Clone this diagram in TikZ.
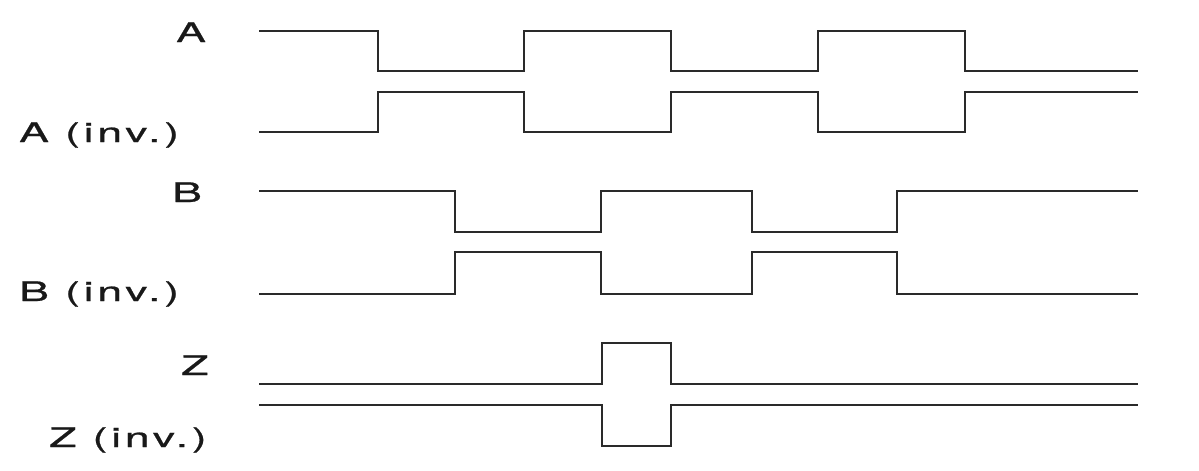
\documentclass[tikz,border=0pt]{standalone}
\usepackage{fontspec}
\usepackage{tikz}
\newfontfamily\sigfont[FakeStretch=1.65,LetterSpace=14,FakeBold=0.8]{TeX Gyre Heros}
\definecolor{wavegray}{HTML}{2A2A2A}

\begin{document}
\begin{tikzpicture}[x=1pt, y=-1pt]
    % Styles
    \tikzstyle{sig} = [anchor=base west, inner sep=0pt, text=black!90, font=\sigfont\fontsize{27}{30}\selectfont]
    \tikzstyle{wave} = [draw=wavegray, line width=1.6pt, line join=miter]

    \useasboundingbox (0,0) rectangle (1199,471);

    % Labels
    \node[sig] (lA)  at (176,42)  {A};
    \node[sig] (lAn) at (19,142)  {A (inv.)};
    \node[sig] (lB)  at (172,202) {B};
    \node[sig] (lBn) at (19,301)  {B (inv.)};
    \node[sig] (lZ)  at (181,375) {Z};
    \node[sig] (lZn) at (49,447)  {Z (inv.)};

    % Waveforms A
    \draw[wave] (259,31) -| (378,71) -| (524,31) -| (671,71) -| (818,31) -| (965,71) -- (1138,71);
    \draw[wave] (259,132) -| (378,92) -| (524,132) -| (671,92) -| (818,132) -| (965,92) -- (1138,92);

    % Waveforms B
    \draw[wave] (259,191) -| (455,232) -| (601,191) -| (752,232) -| (897,191) -- (1138,191);
    \draw[wave] (259,294) -| (455,252) -| (601,294) -| (752,252) -| (897,294) -- (1138,294);

    % Waveforms Z
    \draw[wave] (259,384) -| (602,343) -| (671,384) -- (1138,384);
    \draw[wave] (259,405) -| (602,446) -| (671,405) -- (1138,405);
\end{tikzpicture}
\end{document}
